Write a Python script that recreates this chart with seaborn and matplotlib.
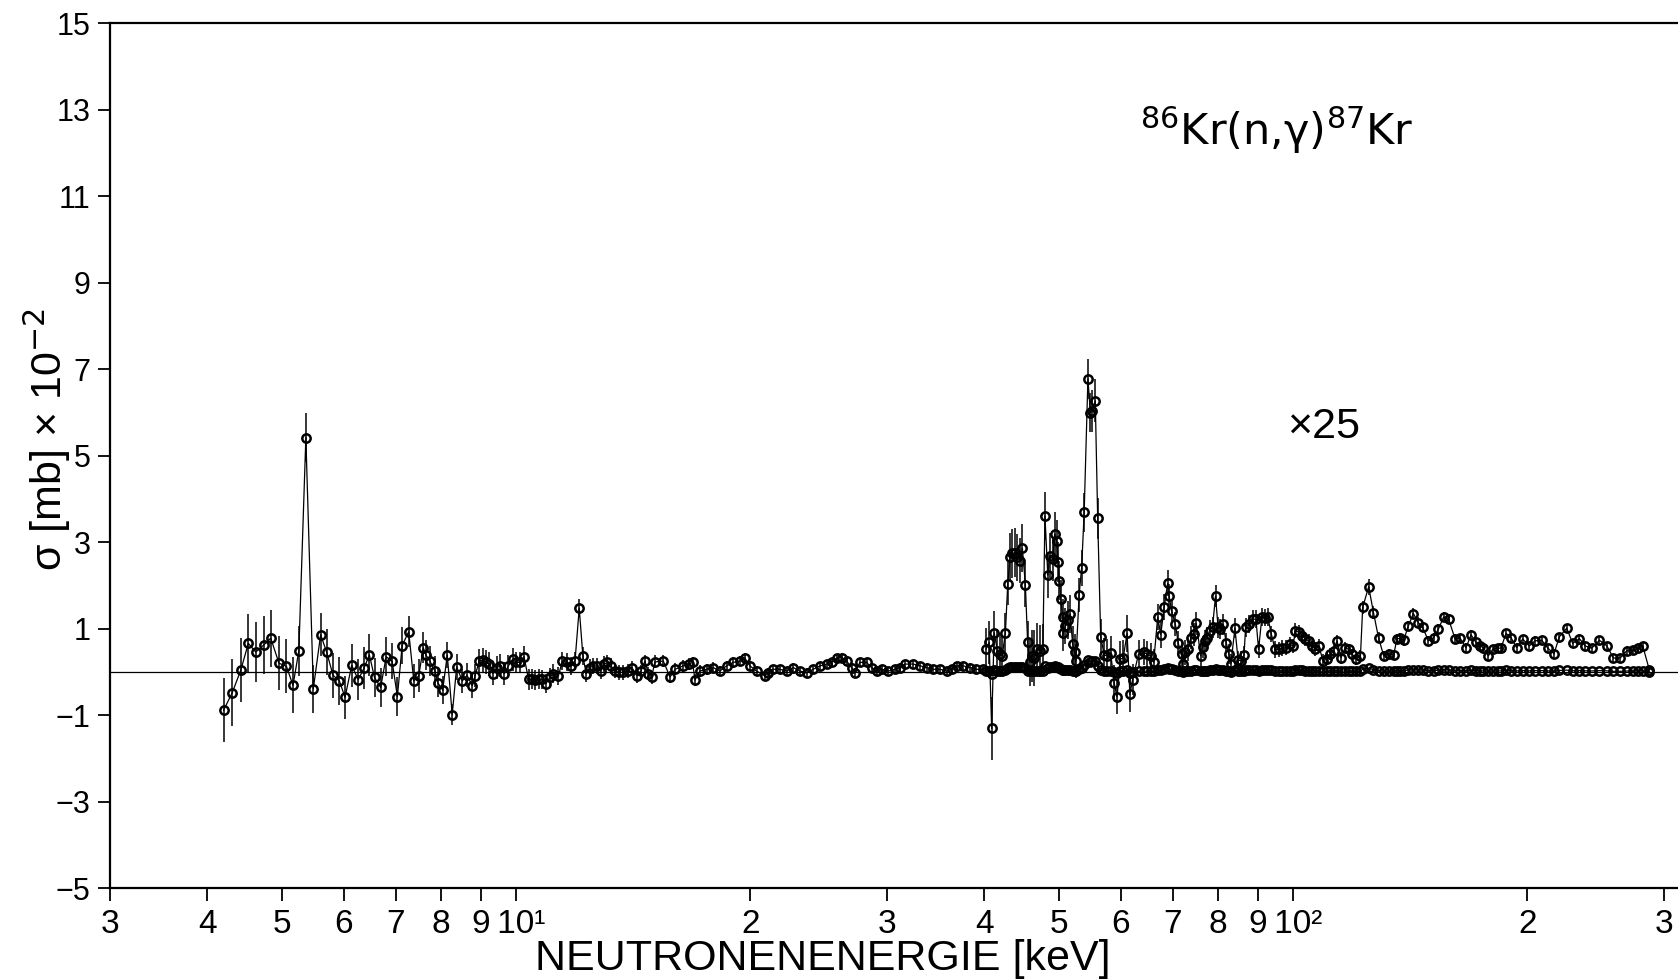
import numpy as np
import pandas as pd
import matplotlib
matplotlib.use("Agg")
import matplotlib.pyplot as plt
import seaborn as sns
from matplotlib import font_manager
from matplotlib.ticker import FixedLocator, FixedFormatter

# ---------------------------------------------------------------------------
# 86Kr(n,gamma)87Kr capture cross section, sigma in units of 1e-2 mb
# ---------------------------------------------------------------------------

# Neutron energies below 40 keV (keV), cross sections and uncertainties
energy_lo = [
    4.20, 4.31, 4.42, 4.52, 4.62, 4.73, 4.83, 4.95, 5.06, 5.16, 5.25, 5.36,
    5.48, 5.60, 5.70, 5.81, 5.92, 6.02, 6.14, 6.26, 6.37, 6.47, 6.57, 6.69,
    6.80, 6.92, 7.03, 7.13, 7.27, 7.38, 7.49, 7.59, 7.65, 7.74, 7.86, 7.93,
    8.04, 8.15, 8.27, 8.38, 8.52, 8.64, 8.78, 8.85,
    8.96, 9.05, 9.14, 9.23, 9.33, 9.44, 9.53, 9.65, 9.77, 9.89, 9.99, 10.11,
    10.23, 10.37, 10.47, 10.57, 10.68, 10.78, 10.92, 11.05, 11.16, 11.33,
    11.46, 11.61, 11.75, 11.90, 12.05, 12.18, 12.30, 12.44, 12.56, 12.71,
    12.84, 12.97, 13.10, 13.23, 13.40, 13.57, 13.73, 13.91, 14.08, 14.29,
    14.46, 14.64, 14.79,
    14.93, 15.08, 15.46, 15.77, 16.01, 16.40, 16.69, 16.86, 16.98, 17.23,
    17.58, 17.92, 18.28, 18.65, 19.02, 19.40, 19.68, 19.98, 20.38, 20.89,
    21.09, 21.41, 21.84, 22.27, 22.72, 23.17, 23.63, 24.11, 24.59, 25.08,
    25.45, 25.83, 26.22, 26.61, 27.00, 27.27, 27.68, 28.23, 28.65, 29.08,
    29.52, 30.12, 30.72, 31.18, 31.64, 32.43, 33.08, 33.74, 34.42, 35.10,
    35.80, 36.33, 36.87, 37.60, 38.34, 39.10, 39.88,
]
sigma_lo = [
    -0.89, -0.48, 0.04, 0.66, 0.46, 0.62, 0.78, 0.20, 0.13, -0.31, 0.49, 5.42,
    -0.39, 0.86, 0.46, -0.08, -0.21, -0.59, 0.15, -0.18, 0.09, 0.39, -0.13, -0.36,
    0.35, 0.25, -0.57, 0.61, 0.93, -0.21, -0.09, 0.56, 0.39, 0.25, 0.02, -0.26,
    -0.42, 0.39, -0.99, 0.12, -0.21, -0.08, -0.32, -0.09,
    0.25, 0.27, 0.22, 0.18, -0.04, 0.10, 0.14, -0.04, 0.14, 0.29, 0.22, 0.22,
    0.35, -0.17, -0.17, -0.19, -0.17, -0.17, -0.27, -0.12, -0.04, -0.09,
    0.25, 0.22, 0.14, 0.25, 1.47, 0.37, -0.04, 0.10, 0.14, 0.14,
    0.02, 0.18, 0.22, 0.14, 0.02, -0.01, -0.01, 0.02, 0.10, -0.09,
    0.01, 0.25, -0.04,
    -0.12, 0.23, 0.25, -0.12, 0.06, 0.14, 0.18, 0.22, -0.19, 0.02,
    0.06, 0.10, 0.02, 0.14, 0.22, 0.25, 0.32, 0.14, 0.02, -0.09,
    -0.02, 0.06, 0.06, 0.02, 0.10, 0.02, -0.02, 0.06, 0.14, 0.18,
    0.22, 0.32, 0.33, 0.25, 0.10, -0.02, 0.22, 0.22, 0.10, 0.02,
    0.06, 0.02, 0.06, 0.10, 0.18, 0.18, 0.14, 0.10, 0.06, 0.06,
    0.02, 0.06, 0.14, 0.14, 0.10, 0.06, 0.06,
]
error_lo = [
    0.74, 0.77, 0.74, 0.69, 0.70, 0.68, 0.66, 0.62, 0.62, 0.65, 0.58, 0.56,
    0.55, 0.50, 0.54, 0.52, 0.56, 0.50, 0.50, 0.48, 0.48, 0.48, 0.45, 0.45,
    0.45, 0.42, 0.45, 0.42, 0.36, 0.40, 0.38, 0.36, 0.35, 0.35, 0.34, 0.33,
    0.33, 0.30, 0.25, 0.30, 0.28, 0.28, 0.28, 0.27,
    0.28, 0.28, 0.28, 0.28, 0.27, 0.27, 0.27, 0.26, 0.26, 0.26, 0.25, 0.25,
    0.24, 0.24, 0.23, 0.23, 0.23, 0.22, 0.22, 0.22, 0.22, 0.21,
    0.21, 0.21, 0.21, 0.20, 0.21, 0.20, 0.20, 0.19, 0.19, 0.19,
    0.18, 0.18, 0.18, 0.18, 0.17, 0.17, 0.17, 0.16, 0.16, 0.16,
    0.16, 0.15, 0.15,
    0.15, 0.15, 0.14, 0.14, 0.14, 0.14, 0.13, 0.13, 0.13, 0.13,
    0.13, 0.12, 0.12, 0.12, 0.12, 0.12, 0.12, 0.11, 0.11, 0.11,
    0.11, 0.11, 0.11, 0.10, 0.10, 0.10, 0.10, 0.10, 0.10, 0.10,
    0.10, 0.10, 0.10, 0.10, 0.10, 0.10, 0.10, 0.10, 0.10, 0.10,
    0.10, 0.10, 0.10, 0.10, 0.10, 0.10, 0.10, 0.10, 0.10, 0.10,
    0.10, 0.10, 0.10, 0.10, 0.10, 0.10, 0.10,
]

# Energies above 40 keV; cross sections and errors as plotted, magnified x25
MAGNIFICATION = 25
energy_hi = [
    40.2, 40.6, 40.9, 41.2, 41.6, 41.9, 42.2, 42.6, 42.9, 43.2, 43.5, 43.8,
    44.1, 44.5, 44.8, 45.2, 45.5, 45.8, 46.1, 46.4, 46.8, 47.2, 47.6, 47.9,
    48.3, 48.6, 49.0, 49.3, 49.6, 49.8, 50.0, 50.2, 50.5, 50.6, 50.9, 51.3,
    51.6, 52.0, 52.3, 52.5, 53.0, 53.4, 53.8, 54.4, 54.8, 55.1, 55.6, 56.0,
    56.5, 57.1, 57.6, 58.2, 58.8, 59.3, 59.9, 60.4, 61.1, 61.6, 62.1,
    63.2, 64.2, 64.8, 65.5, 66.1, 66.9, 67.5, 68.2, 68.9, 69.2, 69.7, 70.5,
    71.1, 71.8, 72.0, 72.5, 73.2, 73.8, 74.4, 75.0, 76.0, 76.4, 76.9, 77.4,
    78.0, 78.7, 79.4, 80.0, 80.5, 81.2, 82.0, 82.6, 83.1, 84.1, 84.9, 85.6,
    86.4, 86.8, 87.8, 88.7, 89.5, 90.2, 91.1, 92.0, 92.7, 93.7, 94.7, 95.8,
    96.7, 97.7, 98.9, 99.9, 100.6, 101.6, 102.6, 103.6, 104.6, 105.7, 106.7,
    107.8, 109.2, 110.5, 111.6, 112.7, 113.8, 115.2, 116.6, 117.8, 119.0,
    120.5, 122.0, 122.8, 125.0, 126.8, 128.7, 130.7, 132.6, 134.6, 135.9,
    137.3, 138.6, 140.6, 142.7, 144.8, 146.7, 149.2, 151.5, 153.7, 156.1,
    158.4, 161.5, 163.9, 166.8, 169.3, 171.8, 173.9, 175.6, 178.2, 180.5,
    183.2, 185.0, 187.8, 190.6, 193.8, 197.3, 201.2, 204.7, 208.8, 212.5,
    216.5, 219.9, 224.8, 228.8, 233.4, 237.4, 242.1, 247.7, 253.2, 258.2,
    263.4, 268.6, 273.9, 278.0, 281.6, 287.2,
]
sigma_hi_x25 = [
    0.52, 0.68, -1.31, 0.91, 0.49, 0.41, 0.37, 0.91, 2.04, 2.66, 2.74, 2.76,
    2.65, 2.57, 2.86, 2.01, 0.68, 0.22, 0.37, 0.33, 0.52, 0.49, 0.52, 3.61,
    2.24, 2.69, 2.61, 3.19, 3.03, 2.55, 2.11, 1.68, 1.26, 0.91, 1.06, 1.20,
    1.34, 0.64, 0.45, 0.25, 1.78, 2.41, 3.69, 6.78, 6.00, 6.03, 6.27, 3.55,
    0.81, 0.39, 0.37, 0.43, -0.25, -0.58, 0.29, 0.33, 0.89, -0.52, -0.18,
    0.41, 0.45, 0.41, 0.37, 0.22, 1.27, 0.86, 1.50, 2.05, 1.76, 1.41, 1.10,
    0.66, 0.41, 0.19, 0.45, 0.52, 0.79, 0.87, 1.12, 0.37, 0.58, 0.72, 0.79,
    0.95, 1.03, 1.76, 1.03, 0.99, 1.10, 0.66, 0.41, 0.19, 1.01, 0.27, 0.26,
    0.39, 1.03, 1.10, 1.22, 1.22, 0.52, 1.27, 1.25, 1.27, 0.87, 0.52, 0.52,
    0.55, 0.56, 0.64, 0.60, 0.95, 0.92, 0.84, 0.76, 0.72, 0.60, 0.52,
    0.60, 0.26, 0.29, 0.41, 0.49, 0.72, 0.33, 0.56, 0.52, 0.41,
    0.29, 0.37, 1.49, 1.97, 1.37, 0.79, 0.37, 0.41, 0.39, 0.76,
    0.78, 0.73, 1.06, 1.35, 1.14, 1.03, 0.72, 0.79, 0.99, 1.27,
    1.22, 0.76, 0.78, 0.56, 0.86, 0.68, 0.60, 0.56, 0.37, 0.52,
    0.55, 0.55, 0.89, 0.79, 0.56, 0.76, 0.60, 0.72, 0.73, 0.55,
    0.42, 0.81, 1.01, 0.66, 0.77, 0.60, 0.55, 0.73, 0.60, 0.32,
    0.32, 0.49, 0.50, 0.55, 0.60, 0.04,
]
error_hi_x25 = [
    0.50, 0.50, 0.74, 0.50, 0.50, 0.50, 0.45, 0.45, 0.50, 0.56, 0.56, 0.56,
    0.55, 0.52, 0.56, 0.50, 0.50, 0.55, 0.60, 0.65, 0.62, 0.60, 0.58, 0.56,
    0.52, 0.52, 0.50, 0.50, 0.48, 0.46, 0.45, 0.45, 0.42, 0.42, 0.42, 0.45,
    0.45, 0.42, 0.42, 0.40, 0.40, 0.42, 0.45, 0.46, 0.46, 0.48, 0.50, 0.48,
    0.42, 0.40, 0.40, 0.40, 0.40, 0.40, 0.42, 0.40, 0.42, 0.40, 0.36,
    0.32, 0.30, 0.30, 0.30, 0.30, 0.30, 0.30, 0.30, 0.30, 0.28, 0.28, 0.28,
    0.28, 0.28, 0.28, 0.28, 0.26, 0.26, 0.26, 0.26, 0.26, 0.25, 0.25, 0.25,
    0.25, 0.25, 0.25, 0.24, 0.24, 0.24, 0.23, 0.23, 0.23, 0.23, 0.22, 0.22,
    0.22, 0.22, 0.21, 0.21, 0.21, 0.20, 0.20, 0.20, 0.20, 0.19, 0.19, 0.18,
    0.18, 0.18, 0.17, 0.17, 0.17, 0.16, 0.16, 0.16, 0.15, 0.15, 0.15,
    0.15, 0.15, 0.14, 0.14, 0.14, 0.14, 0.14, 0.13, 0.13, 0.13,
    0.13, 0.13, 0.16, 0.18, 0.15, 0.13, 0.12, 0.12, 0.12, 0.12,
    0.12, 0.12, 0.12, 0.12, 0.12, 0.11, 0.11, 0.11, 0.11, 0.11,
    0.11, 0.11, 0.10, 0.10, 0.10, 0.10, 0.10, 0.10, 0.10, 0.10,
    0.10, 0.10, 0.10, 0.10, 0.10, 0.10, 0.10, 0.10, 0.10, 0.10,
    0.10, 0.10, 0.10, 0.10, 0.10, 0.10, 0.10, 0.10, 0.10, 0.10,
    0.10, 0.10, 0.10, 0.10, 0.10, 0.05,
]

x_ticks = [3, 4, 5, 6, 7, 8, 9, 10, 20, 30, 40, 50, 60, 70, 80, 90, 100, 200, 300]
x_tick_labels = ["3", "4", "5", "6", "7", "8", "9", " 10\u00b9", "2", "3", "4", "5",
                 "6", "7", "8", "9", " 10\u00b2", "2", "3"]
y_ticks = [-5, -3, -1, 1, 3, 5, 7, 9, 11, 13, 15]

# ---------------------------------------------------------------------------
# fonts
# ---------------------------------------------------------------------------
sns.set_theme(style="ticks")
available = {f.name for f in font_manager.fontManager.ttflist}
REGULAR = "Liberation Sans" if "Liberation Sans" in available else "DejaVu Sans"
plt.rcParams["font.family"] = [REGULAR, "DejaVu Sans"]
plt.rcParams["mathtext.fontset"] = "dejavusans"

# ---------------------------------------------------------------------------
# assemble tables
# ---------------------------------------------------------------------------
e_lo = np.array(energy_lo)
s_lo = np.array(sigma_lo)
d_lo = np.array(error_lo)
e_hi = np.array(energy_hi)
s_hi_mag = np.array(sigma_hi_x25)
d_hi_mag = np.array(error_hi_x25)

# unmagnified series over the full energy range
full = pd.DataFrame({
    "E": np.concatenate([e_lo, e_hi]),
    "sigma": np.concatenate([s_lo, s_hi_mag / MAGNIFICATION]),
    "err": np.concatenate([d_lo, d_hi_mag / MAGNIFICATION]),
})
# magnified series above 40 keV
mag = pd.DataFrame({"E": e_hi, "sigma": s_hi_mag, "err": d_hi_mag})

# ---------------------------------------------------------------------------
# figure
# ---------------------------------------------------------------------------
W, H = 1678, 980
fig = plt.figure(figsize=(W / 100, H / 100), dpi=100)
ax = fig.add_axes([110 / W, 92 / H, (W - 110) / W, (888 - 23.5) / H])
ax.set_xscale("log")
ax.set_xlim(3, 312.6)
ax.set_ylim(-5, 15)

ax.axhline(0, color="black", lw=0.9, zorder=1)

marker_kw = dict(marker="o", markersize=6.0, markerfacecolor="none",
                 markeredgecolor="black", markeredgewidth=1.8)

for df in (full, mag):
    ax.vlines(df["E"], df["sigma"] - df["err"], df["sigma"] + df["err"],
              colors="black", lw=1.1, zorder=2)
    sns.lineplot(data=df, x="E", y="sigma", ax=ax, color="black", lw=0.9,
                 estimator=None, sort=True, legend=False, zorder=3, **marker_kw)

# axes frame
for side in ("left", "bottom", "top"):
    ax.spines[side].set_linewidth(1.6)
    ax.spines[side].set_color("black")
ax.spines["right"].set_visible(False)

ax.xaxis.set_major_locator(FixedLocator(x_ticks))
ax.xaxis.set_major_formatter(FixedFormatter(x_tick_labels))
ax.xaxis.set_minor_locator(FixedLocator([]))
ax.yaxis.set_major_locator(FixedLocator(y_ticks))
ax.tick_params(axis="both", which="major", direction="out", length=9,
               width=1.3, color="black", top=False, right=False,
               labelcolor="black")
ax.tick_params(axis="x", pad=6, labelsize=24)
ax.tick_params(axis="y", pad=5, labelsize=22)

ax.set_xlabel("NEUTRONENENERGIE [keV]", fontsize=31, color="black")
ax.xaxis.set_label_coords((823 - 110) / 1568, (888 - 939) / 864.5)
ax.xaxis.label.set_va("top")

ax.set_ylabel("\u03c3 [mb] \u00d7 10$^{-2}$", fontsize=31, color="black")
ax.yaxis.set_label_coords((73 - 110) / 1568, (888 - 440) / 864.5)

ax.text((1277 - 110) / 1568, (888 - 145) / 864.5,
        "$^{86}$Kr(n,\u03b3)$^{87}$Kr", transform=ax.transAxes,
        ha="center", va="baseline", fontsize=31, fontfamily="DejaVu Sans",
        color="black")
ax.text((1324 - 110) / 1568, (888 - 438) / 864.5, "\u00d725",
        transform=ax.transAxes, ha="center", va="baseline", fontsize=31,
        color="black")

ax.set_facecolor("white")
fig.patch.set_facecolor("white")
fig.savefig("out.png", dpi=100, facecolor="white")
